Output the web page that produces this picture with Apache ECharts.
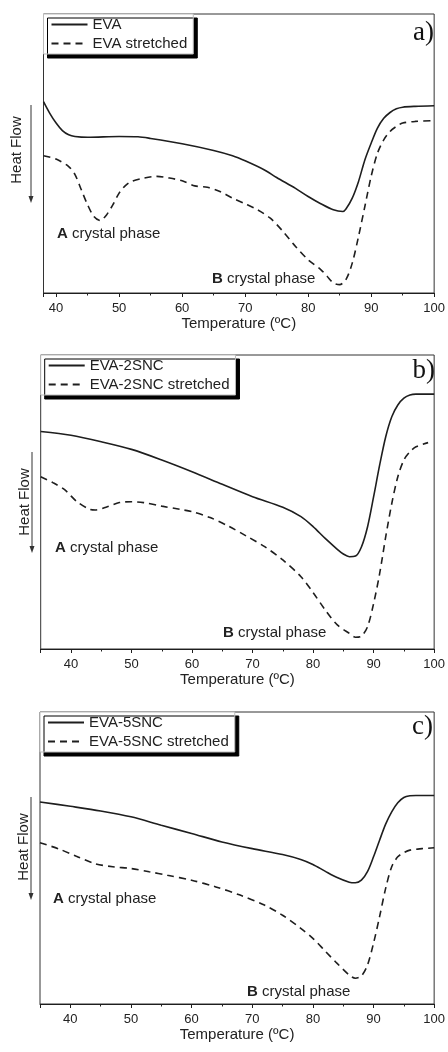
<!DOCTYPE html>
<html>
<head>
<meta charset="utf-8">
<script src="https://cdn.jsdelivr.net/npm/echarts@6/dist/echarts.min.js"></script>
<style>
html,body{margin:0;padding:0;background:#fff;}
#chart{width:448px;height:1052px;}
</style>
</head>
<body>
<div id="chart"></div>
<script>
// ---------- Data (temperature in ºC, heat flow in arbitrary units) ----------
const seriesNamesA = ['EVA', 'EVA stretched'];
const seriesNamesB = ['EVA-2SNC', 'EVA-2SNC stretched'];
const seriesNamesC = ['EVA-5SNC', 'EVA-5SNC stretched'];
const xTickLabels = ['40', '50', '60', '70', '80', '90', '100'];

const evaT  = [38, 39, 40, 41, 42, 43, 45, 50, 53, 55, 60, 65, 68, 70, 73, 75, 78, 80, 82, 84, 85.5, 86, 87, 88, 89, 90, 91, 92, 93, 94, 95, 97, 100];
const evaHF = [68.6, 64.4, 60.9, 58.2, 56.7, 56.1, 55.8, 56.1, 56.0, 55.4, 53.5, 51.1, 49.2, 47.4, 44.2, 41.4, 37.5, 34.6, 32.0, 29.8, 29.2, 30.1, 34.0, 40.0, 47.7, 53.7, 59.1, 62.6, 64.7, 66.0, 66.6, 66.9, 67.1];

const evaStT  = [38, 40, 42, 43, 44, 45, 46, 47, 48, 49, 50, 51, 52, 54, 56, 58, 60, 62, 64, 66, 68, 70, 72, 74, 76, 78, 80, 82, 83, 84, 85, 86, 87, 88, 89, 90, 91, 92, 93, 94, 95, 97, 100];
const evaStHF = [49.2, 48.0, 45.3, 42.4, 37.0, 31.6, 27.4, 26.0, 28.0, 31.6, 35.8, 38.5, 40.0, 41.2, 41.8, 41.2, 40.2, 38.4, 37.9, 36.4, 34.0, 32.0, 29.8, 26.8, 22.1, 16.7, 11.9, 8.4, 6.0, 3.6, 3.0, 4.8, 10.7, 20.3, 31.0, 41.8, 50.1, 54.9, 57.9, 59.7, 60.9, 61.5, 61.8];

const eva2T  = [35, 40, 45, 50, 55, 60, 65, 70, 75, 78, 80, 82, 84, 85, 86, 87, 88, 89, 90, 91, 92, 93, 94, 95, 96, 97, 100];
const eva2HF = [74.0, 72.7, 70.5, 67.9, 64.3, 60.3, 56.0, 51.8, 48.2, 45.0, 41.6, 37.6, 33.9, 32.3, 31.4, 31.6, 34.8, 41.6, 51.8, 62.6, 72.2, 79.0, 83.0, 85.3, 86.4, 86.7, 86.7];

const eva2StT  = [35, 37, 39, 41, 43, 44, 46, 48, 50, 52, 55, 58, 60, 63, 66, 69, 72, 75, 78, 80, 82, 84, 86, 87, 88, 89, 90, 91, 92, 93, 94, 95, 96, 97, 99];
const eva2StHF = [58.6, 56.6, 54.1, 50.1, 47.6, 47.3, 48.4, 49.8, 50.1, 49.8, 48.6, 47.5, 46.7, 44.7, 41.8, 38.4, 34.8, 30.3, 24.6, 19.2, 13.3, 8.2, 5.3, 4.0, 4.4, 7.6, 15.5, 25.7, 38.2, 49.5, 58.6, 64.3, 67.1, 68.8, 70.2];

const eva5T  = [35, 40, 45, 50, 55, 60, 65, 70, 75, 78, 80, 82, 84, 86, 87, 88, 89, 90, 91, 92, 93, 94, 95, 96, 97, 100];
const eva5HF = [69.2, 67.7, 66.1, 64.1, 61.2, 58.4, 55.5, 53.2, 51.2, 49.5, 47.8, 45.5, 43.3, 41.7, 41.5, 42.4, 45.3, 50.4, 56.1, 61.6, 65.8, 68.9, 70.7, 71.3, 71.4, 71.4];

const eva5StT  = [35, 38, 41, 44, 47, 50, 53, 56, 60, 64, 68, 72, 75, 78, 80, 82, 84, 86, 87, 88, 89, 90, 91, 92, 93, 94, 95, 96, 98, 100];
const eva5StHF = [55.2, 53.2, 50.6, 48.1, 47.0, 46.4, 45.3, 44.1, 42.4, 40.1, 37.3, 33.9, 30.4, 25.9, 22.5, 18.2, 13.9, 9.9, 8.8, 9.6, 13.3, 20.8, 29.9, 39.6, 47.0, 50.4, 51.8, 52.7, 53.2, 53.5];

// ---------- Helpers ----------
const zip = (xs, ys) => xs.map((x, i) => [x, ys[i]]);
const FONT = 'Liberation Sans, Arial, sans-serif';
const SERIF = 'Liberation Serif, Times New Roman, serif';
const INK = '#1e1e1e';

const grids = [
  {left: 43.5, top: 14, width: 396, height: 279},
  {left: 40.7, top: 355, width: 398, height: 294},
  {left: 40, top: 712, width: 397.3, height: 292}
];
const xMins = [38, 35, 35];

function makeX(i) {
  return {
    gridIndex: i, type: 'value', min: xMins[i], max: 100,
    axisLine: {show: true, onZero: false, lineStyle: {color: INK, width: 1}},
    axisTick: {show: true, inside: false, length: 4, lineStyle: {color: INK}},
    minorTick: {show: true, splitNumber: 2, length: 2.5, lineStyle: {color: INK}},
    splitLine: {show: false},
    axisLabel: {
      fontSize: 13, color: '#222', margin: 9, fontFamily: FONT,
      showMinLabel: false,
      formatter: v => (xTickLabels.indexOf(String(v)) >= 0 ? String(v) : '')
    },
    name: 'Temperature (ºC)', nameLocation: 'middle', nameGap: 22,
    nameTextStyle: {fontSize: 15, color: '#222', fontFamily: FONT}
  };
}
function makeY(i) {
  return {gridIndex: i, type: 'value', min: 0, max: 100, show: false};
}
function makeSeries(name, i, xs, ys, dashed) {
  return {
    name: name, type: 'line', xAxisIndex: i, yAxisIndex: i,
    data: zip(xs, ys), smooth: 0.3, symbol: 'none', showSymbol: false,
    lineStyle: {color: INK, width: 1.6, type: dashed ? [7, 5] : 'solid'},
    itemStyle: {color: INK}
  };
}
function makeLegend(names, left, top) {
  return {
    data: names, orient: 'vertical', left: left, top: top,
    itemWidth: 36, itemHeight: 14, itemGap: 4,
    padding: [3, 6, 3, 7],
    backgroundColor: '#fff', borderColor: '#bbb', borderWidth: 1,
    shadowColor: '#000', shadowBlur: 0, shadowOffsetX: 4, shadowOffsetY: 4,
    itemStyle: {color: 'transparent', borderColor: 'transparent', borderWidth: 0},
    textStyle: {fontSize: 15, color: '#222', fontFamily: FONT},
    selectedMode: false
  };
}
function heatFlow(cx, cy, ax, ay0, ay1) {
  return [
    {type: 'text', x: cx, y: cy, rotation: Math.PI / 2,
     style: {text: 'Heat Flow', fontSize: 15, fontFamily: FONT, fill: '#222', align: 'center', verticalAlign: 'middle'}},
    {type: 'line', shape: {x1: ax, y1: ay0, x2: ax, y2: ay1 - 5}, style: {stroke: '#333', lineWidth: 1}},
    {type: 'polygon', shape: {points: [[ax - 2.5, ay1 - 7], [ax + 2.5, ay1 - 7], [ax, ay1]]}, style: {fill: '#333'}}
  ];
}
function phaseLabel(letter, x, y) {
  return {type: 'text', x: x, y: y,
    style: {text: '{b|' + letter + '} crystal phase', fontSize: 15, fontFamily: FONT, fill: '#222',
      verticalAlign: 'middle', rich: {b: {fontWeight: 'bold', fontSize: 15, fontFamily: FONT, fill: '#222'}}}};
}
function panelTag(t, x, y) {
  return {type: 'text', x: x, y: y,
    style: {text: t, fontSize: 27, fontFamily: SERIF, fill: '#111', align: 'right', verticalAlign: 'middle'}};
}

const option = {
  animation: false,
  backgroundColor: '#fff',
  grid: grids.map(g => Object.assign({show: true, borderColor: '#333', borderWidth: 1, backgroundColor: 'transparent'}, g)),
  xAxis: [0, 1, 2].map(makeX),
  yAxis: [0, 1, 2].map(makeY),
  legend: [
    makeLegend(seriesNamesA, 43.5, 14),
    makeLegend(seriesNamesB, 40.7, 355),
    makeLegend(seriesNamesC, 40, 712)
  ],
  series: [
    makeSeries(seriesNamesA[0], 0, evaT, evaHF, false),
    makeSeries(seriesNamesA[1], 0, evaStT, evaStHF, true),
    makeSeries(seriesNamesB[0], 1, eva2T, eva2HF, false),
    makeSeries(seriesNamesB[1], 1, eva2StT, eva2StHF, true),
    makeSeries(seriesNamesC[0], 2, eva5T, eva5HF, false),
    makeSeries(seriesNamesC[1], 2, eva5StT, eva5StHF, true)
  ],
  graphic: [].concat(
    heatFlow(17, 150, 31, 105, 203),
    heatFlow(25, 502, 32, 452, 553),
    heatFlow(23.5, 847, 31, 797, 900),
    [
      phaseLabel('A', 57, 234), phaseLabel('B', 212, 279),
      phaseLabel('A', 55, 548), phaseLabel('B', 223, 633),
      phaseLabel('A', 53, 899), phaseLabel('B', 247, 992),
      panelTag('a)', 434, 33), panelTag('b)', 435, 371), panelTag('c)', 433, 727)
    ]
  )
};

const chart = echarts.init(document.getElementById('chart'), null, {renderer: 'canvas'});
chart.setOption(option);
</script>
</body>
</html>
